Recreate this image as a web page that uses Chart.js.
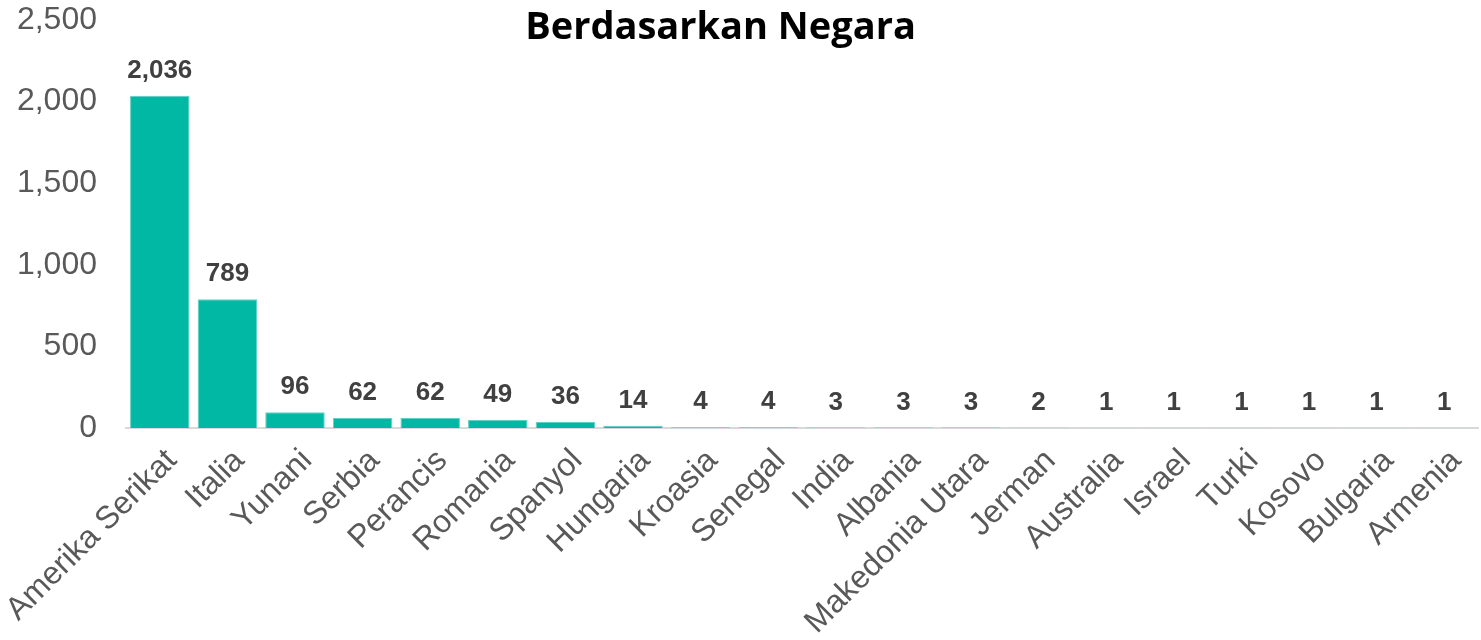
<!DOCTYPE html>
<html>
<head>
<meta charset="utf-8">
<script src="https://cdn.jsdelivr.net/npm/chart.js@4/dist/chart.umd.min.js"></script>
<style>
  html, body { margin: 0; padding: 0; background: #fff; }
  #wrap { width: 1481px; height: 640px; position: relative; }
</style>
</head>
<body>
<div id="wrap"><canvas id="graphique"></canvas></div>
<script>
// data
const negara = [
  "Amerika Serikat", "Italia", "Yunani", "Serbia", "Perancis", "Romania",
  "Spanyol", "Hungaria", "Kroasia", "Senegal", "India", "Albania",
  "Makedonia Utara", "Jerman", "Australia", "Israel", "Turki", "Kosovo",
  "Bulgaria", "Armenia"
];
const jumlah = [2036, 789, 96, 62, 62, 49, 36, 14, 4, 4, 3, 3, 3, 2, 1, 1, 1, 1, 1, 1];
const yTicks = [0, 500, 1000, 1500, 2000, 2500];

const judul = "Berdasarkan Negara";

// labels above the bars
const labelBar = {
  id: "labelBar",
  afterDatasetsDraw(chart) {
    const ctx = chart.ctx;
    const meta = chart.getDatasetMeta(0);
    ctx.save();
    ctx.font = "bold 26px 'Liberation Sans', Arial, sans-serif";
    ctx.fillStyle = "#404040";
    ctx.textAlign = "center";
    ctx.textBaseline = "alphabetic";
    meta.data.forEach((bar, i) => {
      ctx.fillText(jumlah[i].toLocaleString("en-US"), bar.x, bar.y - 18);
    });
    ctx.restore();
  }
};

// title drawn over the plot area
const judulPlugin = {
  id: "judulPlugin",
  afterDraw(chart) {
    const ctx = chart.ctx;
    ctx.save();
    ctx.font = "bold 38px 'Open Sans', 'Noto Sans', sans-serif";
    ctx.fillStyle = "#000";
    ctx.textAlign = "center";
    ctx.textBaseline = "alphabetic";
    ctx.fillText(judul, chart.width / 2 - 20, 39);
    ctx.restore();
  }
};

function createChart() {
  const ctx = document.getElementById("graphique");
  new Chart(ctx, {
    type: "bar",
    data: {
      labels: negara,
      datasets: [{
        data: jumlah,
        backgroundColor: "#00B8A3",
        borderColor: "#5ED1C4",
        borderWidth: 1,
        categoryPercentage: 0.88,
        barPercentage: 1
      }]
    },
    options: {
      responsive: true,
      maintainAspectRatio: false,
      animation: false,
      layout: { padding: { top: 20, right: 3, left: 0, bottom: 0 } },
      plugins: {
        legend: { display: false },
        title: { display: false },
        tooltip: { enabled: false }
      },
      scales: {
        x: {
          grid: { display: false, drawTicks: false },
          border: { display: true, color: "#D9D9D9", width: 2 },
          ticks: {
            color: "#595959",
            font: { family: "'Liberation Sans', Arial, sans-serif", size: 32 },
            maxRotation: 45,
            minRotation: 45,
            autoSkip: false,
            padding: 14,
            labelOffset: 12
          },
          afterFit(scale) {
            scale.height = 212;
            scale.paddingLeft = 0;
            scale.paddingRight = 0;
          }
        },
        y: {
          min: 0,
          max: 2500,
          grid: { display: false, drawTicks: false },
          border: { display: false },
          afterBuildTicks(scale) {
            scale.ticks = yTicks.map(v => ({ value: v }));
          },
          ticks: {
            color: "#595959",
            font: { family: "'Liberation Sans', Arial, sans-serif", size: 32 },
            padding: 29,
            callback: v => v.toLocaleString("en-US")
          },
          afterFit(scale) {
            scale.width = 126;
            scale.paddingTop = 0;
            scale.paddingBottom = 0;
          }
        }
      }
    },
    plugins: [labelBar, judulPlugin]
  });
}

document.addEventListener("DOMContentLoaded", createChart);
</script>
</body>
</html>
